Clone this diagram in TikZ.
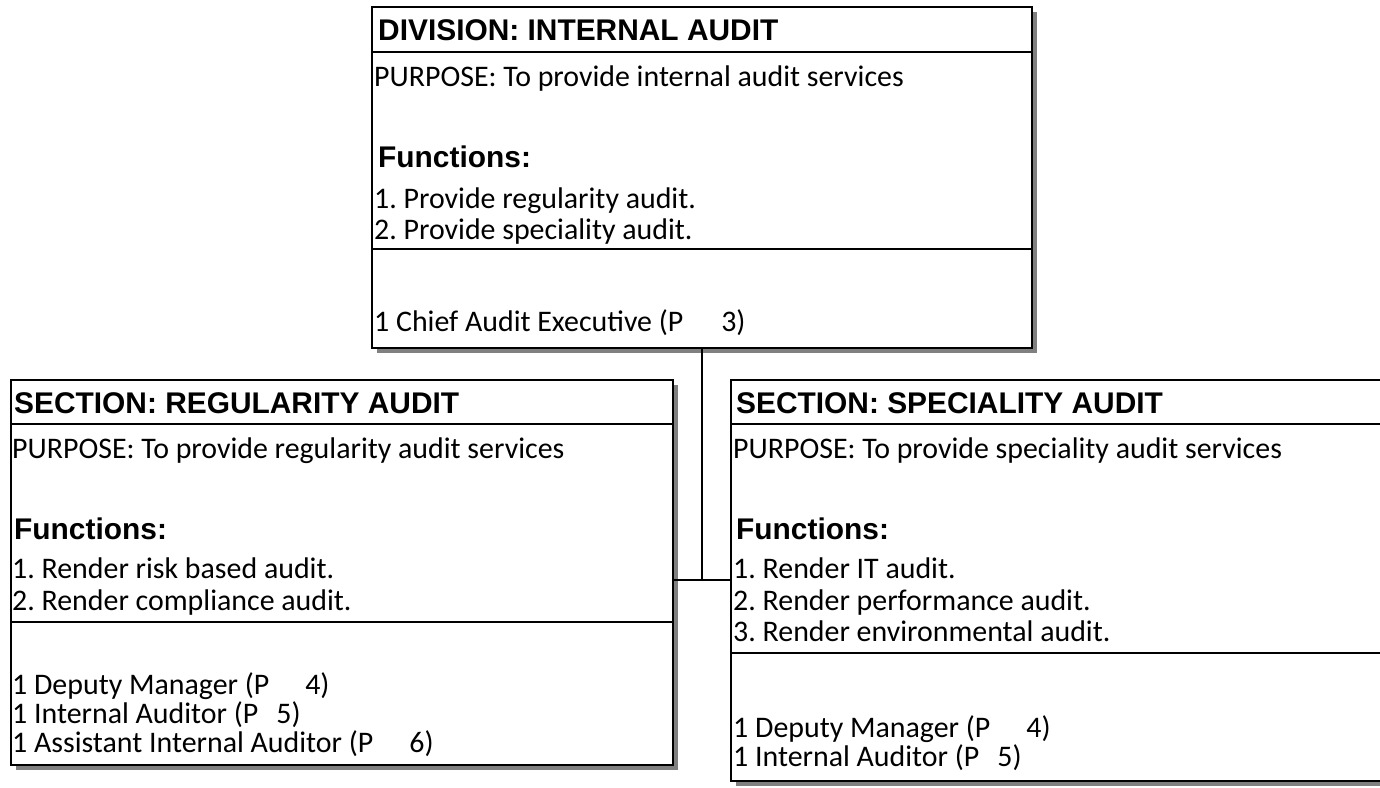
\documentclass[tikz,border=0pt]{standalone}
\usepackage{fontspec}
\setmainfont{Carlito}
\newfontfamily\headfont{Liberation Sans}
\usetikzlibrary{shadows}
\definecolor{shade}{RGB}{128,128,128}
\tikzset{
  unitbox/.style={draw=black, line width=2bp, fill=white, rectangle, inner sep=0pt,
    drop shadow={shadow xshift=5bp, shadow yshift=-5bp, fill=shade, opacity=1}},
  head/.style={anchor=base west, inner sep=0pt, font=\headfont\bfseries\fontsize{30}{36}\selectfont},
  body/.style={anchor=base west, inner sep=0pt, font=\fontsize{30}{36}\selectfont},
  rule/.style={line width=2bp},
  link/.style={line width=2bp},
}
\frenchspacing
\begin{document}
\begin{tikzpicture}[x=1bp, y=-1bp]
  \useasboundingbox (0,0) rectangle (1380,787);
  \clip (0,0) rectangle (1380,787);

  % the three boxes
  \node[unitbox, minimum width=660bp, minimum height=341bp] (div)  at (702,177.5)  {};
  \node[unitbox, minimum width=662bp, minimum height=385bp] (reg)  at (342,572.5)  {};
  \node[unitbox, minimum width=669bp, minimum height=401bp] (spec) at (1065.5,580.5) {};

  % header and staff rules
  \draw[rule] (div.west |- 0,52)   -- (div.east |- 0,52);
  \draw[rule] (div.west |- 0,249)  -- (div.east |- 0,249);
  \draw[rule] (reg.west |- 0,424)  -- (reg.east |- 0,424);
  \draw[rule] (reg.west |- 0,622)  -- (reg.east |- 0,622);
  \draw[rule] (spec.west |- 0,424) -- (spec.east |- 0,424);
  \draw[rule] (spec.west |- 0,653) -- (spec.east |- 0,653);

  % connectors
  \coordinate (j) at (702,580);
  \draw[link] (div.south) -- (j);
  \draw[link] (reg.east |- j) -- (spec.west |- j);

  % division texts
  \node[head] (divt)  at (378,41)  {DIVISION: INTERNAL AUDIT};
  \node[body] (divp)  at (374,86)  {PURPOSE: To provide internal audit services};
  \node[head] (divf)  at (378,167) {Functions:};
  \node[body] (divf1) at (374,208) {1. Provide regularity audit.};
  \node[body] (divf2) at (374,239) {2. Provide speciality audit.};
  \node[body] (divs1) at (374,331) {1 Chief Audit Executive (P\hspace{38bp}3)};

  % regularity section texts
  \node[head] (regt)  at (14,413)  {SECTION: REGULARITY AUDIT};
  \node[body] (regp)  at (12,458)  {PURPOSE: To provide regularity audit services};
  \node[head] (regf)  at (14,539)  {Functions:};
  \node[body] (regf1) at (12,578)  {1. Render risk based audit.};
  \node[body] (regf2) at (12,610)  {2. Render compliance audit.};
  \node[body] (regs1) at (12,694)  {1 Deputy Manager (P\hspace{36bp}4)};
  \node[body] (regs2) at (12,723)  {1 Internal Auditor (P\hspace{18bp}5)};
  \node[body] (regs3) at (12,752)  {1 Assistant Internal Auditor (P\hspace{36bp}6)};

  % speciality section texts
  \node[head] (spect)  at (736,413) {SECTION: SPECIALITY AUDIT};
  \node[body] (specp)  at (733,458) {PURPOSE: To provide speciality audit services};
  \node[head] (specf)  at (736,539) {Functions:};
  \node[body] (specf1) at (733,578) {1. Render IT audit.};
  \node[body] (specf2) at (733,610) {2. Render performance audit.};
  \node[body] (specf3) at (733,641) {3. Render environmental audit.};
  \node[body] (specs1) at (733,737) {1 Deputy Manager (P\hspace{36bp}4)};
  \node[body] (specs2) at (733,766) {1 Internal Auditor (P\hspace{18bp}5)};
\end{tikzpicture}
\end{document}
